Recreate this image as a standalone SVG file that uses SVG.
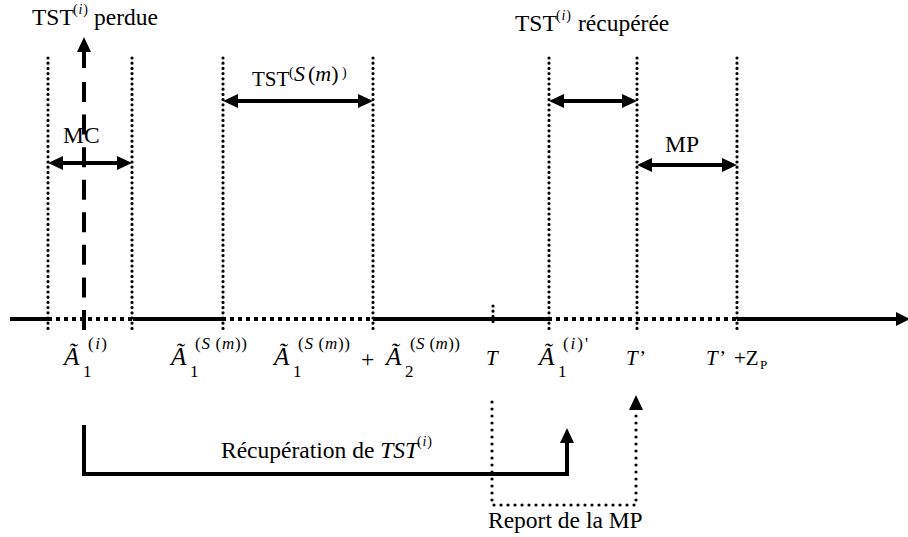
<svg xmlns="http://www.w3.org/2000/svg" width="908" height="537" viewBox="0 0 908 537" font-family="'Liberation Serif','Times New Roman',serif">
<defs>
<style>
text{font-family:"Liberation Serif","Times New Roman",serif;fill:#000}
.t{font-size:23.5px}
.m{font-size:25px;font-style:italic}
.s{font-size:17px}
.ss{font-size:14px}
.i{font-style:italic}
.solid{stroke:#000;stroke-width:4;fill:none}
.sq{stroke:#000;stroke-width:4;fill:none;stroke-dasharray:4 4}
.dot{stroke:#000;stroke-width:3.2;fill:none;stroke-linecap:round;stroke-dasharray:0 5.2}
.dot2{stroke:#000;stroke-width:3.2;fill:none;stroke-linecap:round;stroke-dasharray:0 7}
.dash{stroke:#000;stroke-width:4;fill:none;stroke-dasharray:20 12.57}
.dbl{stroke:#000;stroke-width:4;fill:none;marker-start:url(#ah);marker-end:url(#ah)}
</style>
<marker id="ah" markerUnits="userSpaceOnUse" markerWidth="15" markerHeight="14" refX="7" refY="7" orient="auto-start-reverse" viewBox="0 0 15 14"><path d="M0,0 L15,7 L0,14 z" fill="#000"/></marker>
<marker id="ahb" markerUnits="userSpaceOnUse" markerWidth="14" markerHeight="14" refX="0" refY="7" orient="auto" viewBox="0 0 14 14"><path d="M0,0 L14,7 L0,14 z" fill="#000"/></marker>
</defs>

<g id="axis">
<path class="solid" d="M10,319 H48 M133,319 H222 M373,319 H548 M737,319 H896" marker-end="url(#ahb)"/>
<path class="sq" d="M48,319 H133 M222,319 H373 M548,319 H737"/>
<path class="dot" d="M493,306 V326"/>
</g>

<g id="guides">
<path class="dot" d="M48,58 V331"/>
<path class="dot" d="M132,58 V331"/>
<path class="dot" d="M223,58 V331"/>
<path class="dot" d="M373,58 V331"/>
<path class="dot" d="M549,58 V331"/>
<path class="dot" d="M637,58 V331"/>
<path class="dot" d="M737,58 V331"/>
</g>

<g id="connectors">
<path class="dash" d="M84,330 V82"/>
<path class="solid" d="M84,68 V45" marker-end="url(#ah)"/>
<path class="dbl" d="M56,163 H124"/>
<path class="dbl" d="M231,101 H365"/>
<path class="dbl" d="M557,101 H629"/>
<path class="dbl" d="M645,165 H729"/>
<path class="solid" d="M84,425 V474 H567 V436" marker-end="url(#ah)"/>
<path class="dot2" d="M492,402 V505 H636 V410"/>
<path d="M629,410 L636,395 L643,410 z" fill="#000"/>
</g>

<g id="label-perdue">
<text class="t" x="32" y="25">TST</text>
<text class="ss" x="73" y="14" textLength="15">(<tspan class="i">i</tspan>)</text>
<text class="t" x="94" y="25">perdue</text>
</g>

<g id="label-mc"><text class="t" x="63" y="143">MC</text></g>

<g id="label-tstsm">
<text class="t" x="252" y="86" style="font-size:21px">TST</text>
<text class="ss" x="289" y="77">(</text>
<text class="i" x="294" y="81" style="font-size:22px">S</text>
<text x="308" y="81" style="font-size:22px">(<tspan class="i">m</tspan>)</text>
<text class="ss" x="342" y="77">)</text>
</g>

<g id="label-recuperee">
<text class="t" x="515" y="31">TST</text>
<text class="ss" x="556" y="20" textLength="15">(<tspan class="i">i</tspan>)</text>
<text class="t" x="578" y="31">récupérée</text>
</g>

<g id="label-mp"><text class="t" x="665" y="152">MP</text></g>

<g id="label-a1i">
<text class="m" x="64" y="365">Ã</text>
<text class="s" x="83" y="377">1</text>
<text class="s" x="88" y="349" textLength="19">(<tspan class="i">i</tspan>)</text>
</g>

<g id="label-a1sm">
<text class="m" x="171" y="365">Ã</text>
<text class="s" x="190" y="377">1</text>
<text class="s" x="195" y="349" textLength="52">(<tspan class="i">S</tspan> (<tspan class="i">m</tspan>))</text>
</g>

<g id="label-sum">
<text class="m" x="274" y="365">Ã</text>
<text class="s" x="293" y="377">1</text>
<text class="s" x="298" y="349" textLength="52">(<tspan class="i">S</tspan> (<tspan class="i">m</tspan>))</text>
<text class="t" x="361" y="367">+</text>
<text class="m" x="386" y="365">Ã</text>
<text class="s" x="405" y="377">2</text>
<text class="s" x="410" y="349" textLength="50">(<tspan class="i">S</tspan> (<tspan class="i">m</tspan>))</text>
</g>

<g id="label-T"><text class="m" x="486" y="365" style="font-size:21px">T</text></g>

<g id="label-a1ip">
<text class="m" x="539" y="365">Ã</text>
<text class="s" x="558" y="377">1</text>
<text class="s" x="563" y="349" textLength="25">(<tspan class="i">i</tspan>)'</text>
</g>

<g id="label-Tp"><text class="m" x="626" y="365" style="font-size:21px">T’</text></g>

<g id="label-TpZ">
<text class="m" x="706" y="365" style="font-size:21px">T’</text>
<text x="734" y="365" style="font-size:21px">+Z</text>
<text x="760" y="369" style="font-size:13px">P</text>
</g>

<g id="label-recup">
<text class="t" x="221" y="458">Récupération de <tspan class="i">TST</tspan></text>
<text class="ss" x="417" y="446" textLength="15">(<tspan class="i">i</tspan>)</text>
</g>

<g id="label-report"><text class="t" x="488" y="528">Report de la MP</text></g>
</svg>
